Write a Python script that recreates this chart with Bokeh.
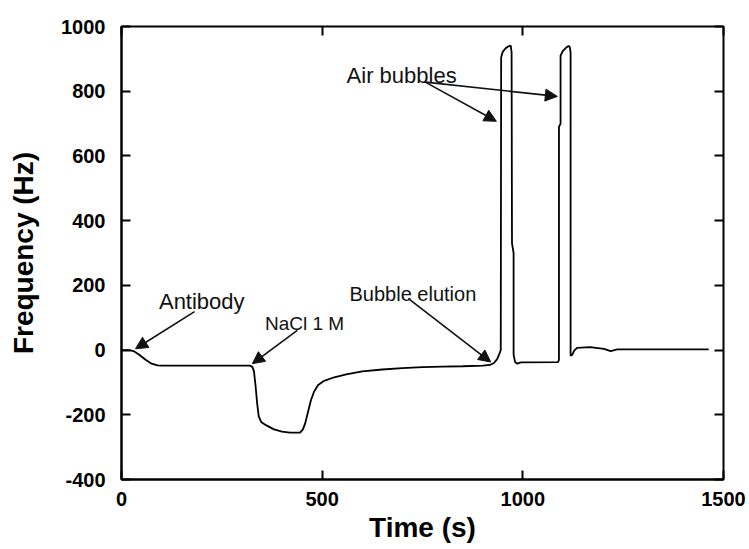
from bokeh.plotting import figure
from bokeh.models import (Range1d, LinearAxis, FixedTicker, Arrow, NormalHead,
                          ColumnDataSource)
from bokeh.core.properties import value
from bokeh.embed import file_html
from bokeh.resources import INLINE

# ---- data ----
time_s = [0, 20, 30, 45, 60, 75, 90, 100, 200, 320, 326, 330, 334, 338, 342, 348,
          360, 380, 400, 420, 445, 452, 458, 465, 472, 480, 490, 505, 530, 560,
          600, 650, 700, 750, 800, 850, 900, 918, 928, 936, 942, 945, 946, 950,
          958, 966, 970, 972, 973, 977, 977, 981, 986, 995, 1088, 1090, 1090,
          1094, 1094, 1100, 1108, 1114, 1117, 1119, 1119, 1123, 1128, 1135, 1168,
          1202, 1219, 1235, 1463]
freq_hz = [0, 0, -3, -15, -30, -42, -47, -48, -48, -48, -52, -65, -110, -165, -205, -222,
           -232, -245, -252, -255, -255, -245, -225, -190, -155, -128, -108, -95, -84, -75,
           -66, -60, -56, -53, -51, -50, -48, -46, -40, -28, -10, 0, 905, 922,
           934, 940, 940, 920, 330, 300, -15, -38, -42, -38, -37, -30, 690,
           700, 910, 925, 935, 940, 936, 920, -17, -15, -2, 7, 9,
           4, -3, 2, 2]

x_ticks = [0, 500, 1000, 1500]
y_ticks = [-400, -200, 0, 200, 400, 600, 800, 1000]
y_tick_labels = {-400: "-400", -200: "-200"}

note_text = ["Antibody", "NaCl 1 M", "Bubble elution", "Air bubbles"]
note_x = [200, 456, 726, 698]
note_y = [150, 81, 174, 849]
note_size = ["22px", "19px", "20px", "22px"]

arrow_x0 = [182, 438, 715, 757, 757]
arrow_y0 = [119, 61, 159, 828, 828]
arrow_x1 = [35, 326, 920, 934, 1086]
arrow_y1 = [4, -42, -37, 707, 784]

FONT = "Liberation Sans"

p = figure(width=749, height=549, output_backend="svg", toolbar_location=None,
           x_range=Range1d(0, 1500), y_range=Range1d(-400, 1000),
           min_border_left=121, min_border_right=26, min_border_top=26,
           min_border_bottom=70, background_fill_color="white",
           border_fill_color="white")

p.xgrid.visible = False
p.ygrid.visible = False
p.outline_line_color = "black"
p.outline_line_width = 2
p.outline_line_alpha = 1

# bottom axis
xa = p.xaxis[0]
xa.ticker = FixedTicker(ticks=x_ticks)
xa.major_tick_in = 9
xa.major_tick_out = 0
xa.minor_tick_line_color = None
xa.axis_line_width = 2
xa.major_tick_line_width = 2
xa.major_label_standoff = 12
xa.major_label_text_font = FONT
xa.major_label_text_font_style = "bold"
xa.major_label_text_font_size = "20px"
xa.major_label_text_color = "black"
xa.axis_label = "Time (s)"
xa.axis_label_text_font = FONT
xa.axis_label_text_font_style = "bold"
xa.axis_label_text_font_size = "28px"
xa.axis_label_text_color = "black"
xa.axis_label_standoff = 3

# left axis
ya = p.yaxis[0]
ya.ticker = FixedTicker(ticks=y_ticks)
ya.major_label_overrides = y_tick_labels
ya.major_tick_in = 9
ya.major_tick_out = 0
ya.minor_tick_line_color = None
ya.axis_line_width = 2
ya.major_tick_line_width = 2
ya.major_label_standoff = 16
ya.major_label_text_font = FONT
ya.major_label_text_font_style = "bold"
ya.major_label_text_font_size = "20px"
ya.major_label_text_color = "black"
ya.axis_label = "Frequency (Hz)"
ya.axis_label_text_font = FONT
ya.axis_label_text_font_style = "bold"
ya.axis_label_text_font_size = "28px"
ya.axis_label_text_color = "black"
ya.axis_label_standoff = 19

# top and right axes: inward ticks only, no labels
top = LinearAxis(ticker=FixedTicker(ticks=x_ticks), major_tick_in=9, major_tick_out=0,
                 minor_tick_line_color=None, axis_line_color=None,
                 major_tick_line_width=2, major_label_text_font_size="0px",
                 major_label_text_color=None, major_label_text_alpha=0,
                 major_label_standoff=0)
right = LinearAxis(ticker=FixedTicker(ticks=y_ticks), major_tick_in=9, major_tick_out=0,
                   minor_tick_line_color=None, axis_line_color=None,
                   major_tick_line_width=2, major_label_text_font_size="0px",
                   major_label_text_color=None, major_label_text_alpha=0,
                   major_label_standoff=0)
p.add_layout(top, "above")
p.add_layout(right, "right")

# trace
p.line(time_s, freq_hz, line_color="black", line_width=1.8)

# annotations
notes = ColumnDataSource(dict(x=note_x, y=note_y, t=note_text, s=note_size))
p.text(x="x", y="y", text="t", source=notes, text_font=value(FONT),
       text_font_size="s", text_align="center", text_baseline="alphabetic",
       text_color="#111111")

arrows = ColumnDataSource(dict(x0=arrow_x0, y0=arrow_y0, x1=arrow_x1, y1=arrow_y1))
p.add_layout(Arrow(x_start="x0", y_start="y0", x_end="x1", y_end="y1", source=arrows,
                   line_color="#111111", line_width=1.6,
                   end=NormalHead(size=12, fill_color="#111111", line_color="#111111")))

open("out.html", "w").write(file_html(p, INLINE))
